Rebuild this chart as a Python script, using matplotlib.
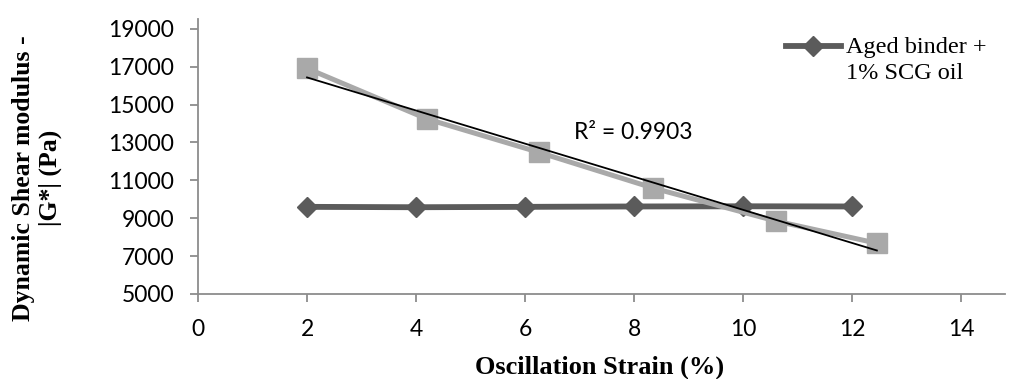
import numpy as np
import matplotlib
matplotlib.use("Agg")
import matplotlib.pyplot as plt

# data
strain_aged = [2, 4, 6, 8, 10, 12]
g_aged = [9600, 9580, 9600, 9620, 9630, 9620]

strain_oil = [2.0, 4.2, 6.25, 8.35, 10.6, 12.45]
g_oil = [16910, 14240, 12480, 10590, 8850, 7680]

legend_label = "Aged binder +\n1% SCG oil"
r2_text = "R\u00b2 = 0.9903"

sans = ["Lato", "DejaVu Sans"]
serif = ["Liberation Serif", "DejaVu Serif"]

fig = plt.figure(figsize=(10.09, 3.79), dpi=100)
ax = fig.add_axes([198 / 1009, 1 - 294 / 379, 807 / 1009, 274.7 / 379])

ax.plot(strain_aged, g_aged, color="#5b5b5b", lw=4.2, marker="D", ms=10,
        label=legend_label, zorder=2)
ax.plot(strain_oil, g_oil, color="#a9a9a9", lw=3.6, marker="s", ms=14.5,
        zorder=3)

# linear trendline of the second series
k, b = np.polyfit(strain_oil, g_oil, 1)
xt = np.array([min(strain_oil), max(strain_oil)])
ax.plot(xt, k * xt + b, color="black", lw=1.3, zorder=4)
ax.text(6.9, 13500, r2_text, fontsize=16.5, family=sans, va="center")

ax.set_xlim(0, 14.8)
ax.set_ylim(5000, 19500)
ax.set_xticks(range(0, 15, 2))
ax.set_yticks(range(5000, 19001, 2000))
for s in ["top", "right"]:
    ax.spines[s].set_visible(False)
for s in ["left", "bottom"]:
    ax.spines[s].set_color("#8c8c8c")
    ax.spines[s].set_linewidth(1.3)
ax.tick_params(length=6, width=1.3, color="#8c8c8c", labelsize=16.5)
ax.tick_params(axis="x", pad=12)
ax.tick_params(axis="y", pad=11)
for lab in ax.get_xticklabels() + ax.get_yticklabels():
    lab.set_family(sans)

fig.text((198 + 1005) / 2 / 1009 - 0.002, 1 - 367 / 379, "Oscillation Strain (%)",
         ha="center", va="center", fontsize=19, fontweight="bold", family=serif)
fig.text(37 / 1009, 1 - 178 / 379, "Dynamic Shear modulus -\n|G*| (Pa)",
         ha="center", va="center", rotation=90, fontsize=18.5, fontweight="bold",
         family=serif, linespacing=1.15)

leg = ax.legend(loc="upper left", bbox_to_anchor=(774 / 1009, 1 - 25 / 379),
                bbox_transform=fig.transFigure, frameon=False, borderpad=0,
                handlelength=2.25, handletextpad=0.2, numpoints=1,
                prop={"family": serif, "size": 17.5})
leg.get_texts()[0].set_linespacing(1.3)
# put the handle next to the first line of the label, like Excel does
for col in leg._legend_handle_box.get_children():
    for item in col.get_children():
        item.align = "top"

fig.savefig("out.png", dpi=100)
